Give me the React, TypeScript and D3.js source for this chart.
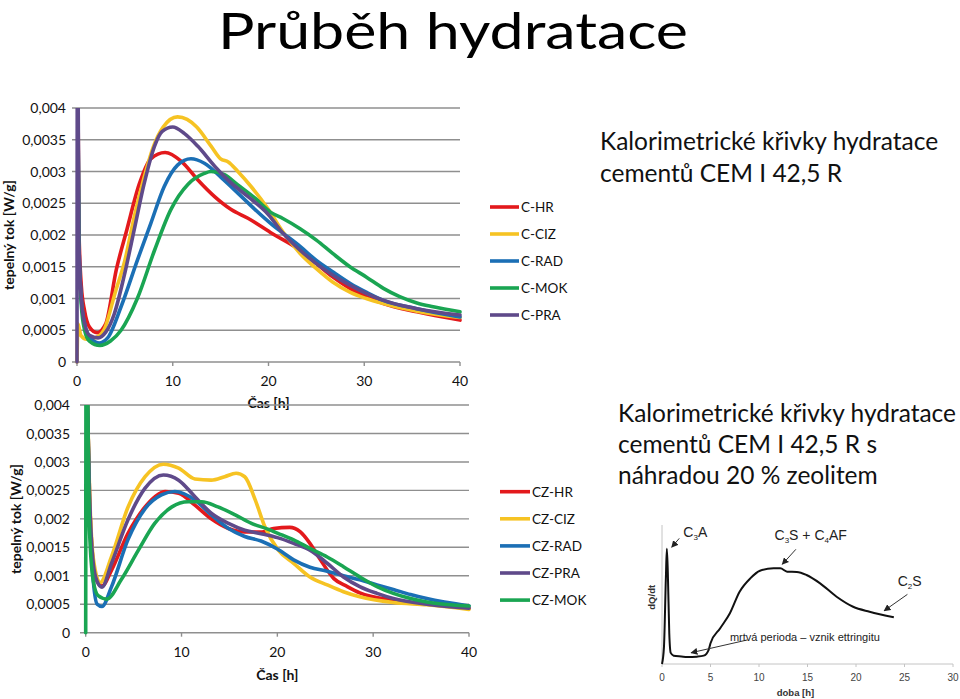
import React from 'react';
import * as d3 from 'd3';

type P = [number, number];

const FONT = "Lato, 'Open Sans', sans-serif";
const ARIAL = "'Liberation Sans', Arial, sans-serif";

// ---------- Chart 1: CEM I 42,5 R ----------
const cHR: P[] = [[0.05,0.0052],[0.2,0.0021],[0.45,0.0012],[0.8,0.0008],[1.3,0.00055],[2.1,0.00046],[3.0,0.0006],[4.1,0.00145],[5.2,0.00208],[6.5,0.0028],[7.7,0.0032],[9.2,0.0033],[10.9,0.00316],[12.6,0.00287],[14.4,0.0026],[16.1,0.0024],[17.9,0.00226],[20.2,0.00204],[23.3,0.00176],[25,0.00155],[26.7,0.00134],[28.5,0.00116],[30.2,0.00103],[32,0.00092],[35.5,0.00079],[40,0.00066]];
const cCIZ: P[] = [[0,0],[0.1,0.0006],[0.4,0.00042],[1.0,0.00036],[1.9,0.00038],[2.8,0.0005],[4,0.0011],[5,0.0016],[6,0.0023],[7,0.0029],[8,0.0034],[9,0.0037],[10.5,0.00386],[11.5,0.00382],[12.5,0.0037],[14,0.0034],[15,0.0032],[15.8,0.00315],[16.8,0.003],[18.2,0.00276],[20,0.0024],[21.5,0.00205],[23.3,0.00171],[25,0.00147],[26.7,0.00126],[28.5,0.0011],[30.2,0.001],[32,0.00092],[35.5,0.0008],[40,0.0007]];
const cRAD: P[] = [[0.05,0.005],[0.2,0.0019],[0.45,0.001],[0.8,0.0006],[1.3,0.0004],[2.3,0.0003],[3.2,0.00038],[4.6,0.00087],[6.3,0.0016],[7.7,0.00218],[9.1,0.00276],[10.5,0.0031],[11.9,0.0032],[13.3,0.00313],[15.1,0.0029],[16.8,0.00266],[18.6,0.0024],[20.4,0.00216],[21.5,0.00203],[23.3,0.00182],[25,0.0016],[26.7,0.00142],[28.5,0.00124],[30.2,0.0011],[32,0.00097],[35.5,0.00084],[40,0.00071]];
const cMOK: P[] = [[0.05,0.005],[0.2,0.0017],[0.45,0.0009],[0.8,0.0005],[1.3,0.00033],[2.4,0.00026],[3.5,0.00033],[4.6,0.0005],[6.3,0.001],[8.1,0.00176],[9.8,0.0024],[11.6,0.0028],[13.3,0.00297],[14,0.003],[15.4,0.00295],[16.8,0.00279],[18.6,0.00258],[20.2,0.00236],[21.5,0.00226],[23.3,0.0021],[25,0.00192],[26.7,0.00171],[28.5,0.0015],[30.2,0.00134],[32,0.00116],[33.7,0.00103],[35.5,0.00093],[37.2,0.00087],[40,0.00079]];
const cPRA: P[] = [[0,0],[0.05,0.006],[0.2,0.0019],[0.45,0.001],[0.8,0.0006],[1.3,0.00042],[2.2,0.00038],[3,0.00047],[3.9,0.00076],[4.9,0.00134],[6,0.0021],[7,0.0028],[8.1,0.0034],[8.9,0.00363],[10,0.0037],[11.2,0.0036],[12.6,0.0034],[14.4,0.00308],[16.1,0.00282],[17.9,0.0026],[20,0.00232],[21.5,0.00203],[23.3,0.00176],[25,0.00155],[26.7,0.00137],[28.5,0.00121],[30.2,0.00108],[32,0.00097],[35.5,0.00084],[40,0.00074]];

// ---------- Chart 2: CEM I 42,5 R + 20 % zeolite ----------
const czHR: P[] = [[0.05,0.005],[0.4,0.0024],[0.8,0.0012],[1.2,0.0009],[1.7,0.00082],[2.7,0.0011],[4.4,0.00174],[6.2,0.00221],[7.3,0.0024],[8.3,0.00248],[9.7,0.00245],[11.4,0.00224],[13.1,0.002],[14.9,0.00183],[16.6,0.00177],[18.4,0.00177],[19.6,0.00183],[21.3,0.00185],[22.4,0.00177],[23.4,0.00157],[24.5,0.00128],[25.9,0.00095],[27.3,0.00081],[28.6,0.0007],[32.1,0.00057],[35.6,0.0005],[40,0.00043]];
const czCIZ: P[] = [[0.05,0.005],[0.4,0.0025],[0.8,0.0013],[1.5,0.00088],[2.7,0.00134],[4.4,0.0022],[6.2,0.00274],[8.1,0.00296],[9.7,0.00289],[11.4,0.0027],[13.1,0.00268],[14.5,0.00274],[15.7,0.0028],[16.6,0.00274],[17.7,0.00233],[18.7,0.00186],[20.1,0.00145],[21.7,0.00122],[23.4,0.00098],[25.2,0.00084],[26.9,0.00072],[28.6,0.00063],[32.1,0.00053],[35.6,0.00049],[40,0.00041]];
const czRAD: P[] = [[0.05,0.005],[0.4,0.0022],[0.8,0.0009],[1.2,0.0005],[1.7,0.00046],[2.7,0.00081],[4.4,0.00163],[6.2,0.00218],[7.9,0.00242],[9.3,0.00248],[11.4,0.00233],[13.1,0.00207],[14.9,0.00183],[16.6,0.00169],[18.3,0.00161],[20,0.00147],[21.7,0.00128],[23.4,0.00115],[25.2,0.00108],[26.9,0.001],[28.6,0.00093],[30.4,0.00084],[32.1,0.00076],[33.9,0.00067],[35.6,0.0006],[40,0.00047]];
const czPRA: P[] = [[0.05,0.005],[0.4,0.0024],[0.8,0.0012],[1.2,0.0009],[1.7,0.0008],[2.7,0.00122],[4.4,0.00198],[6.2,0.00254],[8.1,0.00277],[9.7,0.00268],[11.4,0.00239],[13.1,0.0021],[14.9,0.00192],[16.6,0.0018],[18.3,0.00174],[20,0.00167],[21.7,0.00157],[23.4,0.00145],[25.2,0.00122],[26.9,0.00098],[28.6,0.00081],[30.4,0.00069],[32.1,0.0006],[35.6,0.0005],[40,0.00043]];
const czMOK: P[] = [[0,0],[0.05,0.006],[0.4,0.0018],[0.8,0.0009],[1.3,0.00065],[2.2,0.00059],[3.7,0.00093],[5.5,0.00145],[7.2,0.00192],[9,0.00221],[10.7,0.0023],[12.1,0.0023],[13.8,0.00221],[15.6,0.00207],[17.3,0.00192],[19,0.00182],[20,0.00175],[21.7,0.00163],[23.4,0.00148],[25.2,0.00133],[26.9,0.00116],[28.6,0.00098],[30.4,0.00081],[32.1,0.00069],[33.9,0.0006],[35.6,0.00054],[40,0.00047]];

const yTickValues = [0, 0.0005, 0.001, 0.0015, 0.002, 0.0025, 0.003, 0.0035, 0.004];
const yTickLabels = ['0', '0,0005', '0,001', '0,0015', '0,002', '0,0025', '0,003', '0,0035', '0,004'];
const xTickValues = [0, 10, 20, 30, 40];

const RED = '#e3191c';
const YELLOW = '#f6c323';
const BLUE = '#1b6fb5';
const GREEN = '#1aa552';
const PURPLE = '#5f4a8a';

const series1 = [
  { name: 'C-HR', color: RED, data: cHR },
  { name: 'C-CIZ', color: YELLOW, data: cCIZ },
  { name: 'C-RAD', color: BLUE, data: cRAD },
  { name: 'C-MOK', color: GREEN, data: cMOK },
  { name: 'C-PRA', color: PURPLE, data: cPRA },
];
const series2 = [
  { name: 'CZ-HR', color: RED, data: czHR },
  { name: 'CZ-CIZ', color: YELLOW, data: czCIZ },
  { name: 'CZ-RAD', color: BLUE, data: czRAD },
  { name: 'CZ-PRA', color: PURPLE, data: czPRA },
  { name: 'CZ-MOK', color: GREEN, data: czMOK },
];

// ---------- Schematic ----------
const schemT = [0, 0.2, 0.4, 0.5, 0.6, 0.75, 0.9, 1.2, 2, 2.6, 3.6, 4.3, 4.8, 5, 6, 7, 8, 9.1, 10.1, 11.5, 12.2, 12.9, 13.9, 14.9, 16.3, 18, 19.7, 21.4, 23.9];
const schemV = [0, 12, 62, 83, 66, 22, 8, 6, 5.4, 5, 5.3, 6, 10, 14.9, 25.7, 36.5, 52, 61.6, 67.1, 68.8, 68.8, 66.4, 66.2, 64, 58, 48.4, 41.2, 37.6, 33.6];
const schemTicks = [0, 5, 10, 15, 20, 25, 30];

type Cfg = { id: string; x0: number; x1: number; yb: number; yt: number; gridLeft: number; labelRight: number; yTitleX: number; yTitleY: number; xLabelY: number; xTitleY: number };

function Chart({ cfg, series }: { cfg: Cfg; series: { name: string; color: string; data: P[] }[] }) {
  const x = d3.scaleLinear().domain([0, 40]).range([cfg.x0, cfg.x1]);
  const y = d3.scaleLinear().domain([0, 0.004]).range([cfg.yb, cfg.yt]);
  const line = d3.line<P>().x(d => x(d[0])).y(d => y(d[1])).curve(d3.curveMonotoneX);
  return (
    <g>
      <defs>
        <clipPath id={cfg.id}>
          <rect x={cfg.x0 - 4} y={cfg.yt} width={cfg.x1 - cfg.x0 + 8} height={cfg.yb - cfg.yt + 3} />
        </clipPath>
      </defs>
      {yTickValues.map((v, i) => (
        <g key={i}>
          <line x1={cfg.gridLeft} x2={cfg.x1} y1={y(v)} y2={y(v)} stroke="#8f8f8f" strokeWidth={1.4} />
          <text x={cfg.labelRight} y={y(v)} dy="0.36em" textAnchor="end" fontFamily={FONT} fontSize={14} fill="#111">{yTickLabels[i]}</text>
        </g>
      ))}
      <line x1={cfg.x0} x2={cfg.x0} y1={cfg.yt} y2={cfg.yb} stroke="#8f8f8f" strokeWidth={1.4} />
      {xTickValues.map(t => (
        <g key={t}>
          <line x1={x(t)} x2={x(t)} y1={cfg.yb} y2={cfg.yb + 4} stroke="#8f8f8f" strokeWidth={1.4} />
          <text x={x(t)} y={cfg.xLabelY} dy="0.36em" textAnchor="middle" fontFamily={FONT} fontSize={14} fill="#111">{t}</text>
        </g>
      ))}
      <g clipPath={`url(#${cfg.id})`}>
        {series.map(s => (
          <path key={s.name} d={line(s.data) || ''} fill="none" stroke={s.color} strokeWidth={3.6} strokeLinejoin="round" strokeLinecap="round" />
        ))}
      </g>
      <text x={(cfg.x0 + cfg.x1) / 2} y={cfg.xTitleY} dy="0.36em" textAnchor="middle" fontFamily={FONT} fontWeight="bold" fontSize={14} fill="#111">Čas [h]</text>
      <text transform={`translate(${cfg.yTitleX},${cfg.yTitleY}) rotate(-90)`} dy="0.36em" textAnchor="middle" fontFamily={FONT} fontWeight="bold" fontSize={14} fill="#111">tepelný tok [W/g]</text>
    </g>
  );
}

function Legend({ items, x0, x1, y0, step }: { items: { name: string; color: string }[]; x0: number; x1: number; y0: number; step: number }) {
  return (
    <g>
      {items.map((s, i) => (
        <g key={s.name}>
          <line x1={x0} x2={x1} y1={y0 + i * step} y2={y0 + i * step} stroke={s.color} strokeWidth={3.6} />
          <text x={x1 + 2} y={y0 + i * step} dy="0.36em" fontFamily={FONT} fontSize={13.5} fill="#111">{s.name}</text>
        </g>
      ))}
    </g>
  );
}

function Schematic() {
  const x = d3.scaleLinear().domain([0, 30]).range([662, 953]);
  const y = d3.scaleLinear().domain([0, 100]).range([664, 525]);
  const pts: P[] = schemT.map((t, i) => [t, schemV[i]]);
  const line = d3.line<P>().x(d => x(d[0])).y(d => y(d[1])).curve(d3.curveMonotoneX);
  const arrow = (a: P, b: P, k: string) => (
    <line key={k} x1={x(a[0])} y1={y(a[1])} x2={x(b[0])} y2={y(b[1])} stroke="#333" strokeWidth={1} markerEnd="url(#arr)" />
  );
  return (
    <g>
      <defs>
        <marker id="arr" viewBox="0 0 10 10" refX="9" refY="5" markerWidth="7" markerHeight="7" markerUnits="userSpaceOnUse" orient="auto">
          <path d="M0,0 L10,5 L0,10 z" fill="#222" />
        </marker>
      </defs>
      <line x1={x(0)} x2={x(0)} y1={y(100)} y2={y(0)} stroke="#c4c4c4" strokeWidth={1} />
      <line x1={x(0)} x2={x(30)} y1={y(0)} y2={y(0)} stroke="#c4c4c4" strokeWidth={1} />
      {schemTicks.map(t => (
        <g key={t}>
          <line x1={x(t)} x2={x(t)} y1={y(0)} y2={y(0) + 3} stroke="#c4c4c4" strokeWidth={1} />
          <text x={x(t)} y={677} dy="0.36em" textAnchor="middle" fontFamily={ARIAL} fontSize={10} fill="#444">{t}</text>
        </g>
      ))}
      <text x={(x(0) + x(30)) / 2 - 12} y={693} dy="0.36em" textAnchor="middle" fontFamily={ARIAL} fontWeight="bold" fontSize={9.5} fill="#333">doba [h]</text>
      <text transform={`translate(652,${y(48)}) rotate(-90)`} dy="0.36em" textAnchor="middle" fontFamily={ARIAL} fontWeight="bold" fontSize={9.5} fill="#333">dQ/dt</text>
      <path d={line(pts) || ''} fill="none" stroke="#111" strokeWidth={2} strokeLinejoin="round" />
      {arrow([1.78, 90.4], [1.0, 84], 'a1')}
      {arrow([13.8, 82.5], [12.4, 71.7], 'a2')}
      {arrow([25.3, 50.1], [22.9, 38.3], 'a3')}
      {arrow([8.8, 17.3], [3.0, 8.1], 'a4')}
      <text x={x(2.2)} y={y(95)} dy="0.36em" fontFamily={ARIAL} fontSize={14} fill="#222">C<tspan fontSize={8} dy="3">3</tspan><tspan dy="-3">A</tspan></text>
      <text x={x(11.6)} y={y(93)} dy="0.36em" fontFamily={ARIAL} fontSize={14} fill="#222">C<tspan fontSize={8} dy="3">3</tspan><tspan dy="-3">S + C</tspan><tspan fontSize={8} dy="3">4</tspan><tspan dy="-3">AF</tspan></text>
      <text x={x(24.3)} y={y(60)} dy="0.36em" fontFamily={ARIAL} fontSize={14} fill="#222">C<tspan fontSize={8} dy="3">2</tspan><tspan dy="-3">S</tspan></text>
      <text x={x(7.0)} y={y(19.6)} dy="0.36em" fontFamily={ARIAL} fontSize={11} fill="#222" textLength={150} lengthAdjust="spacingAndGlyphs">mrtvá perioda – vznik ettringitu</text>
    </g>
  );
}

const cfg1: Cfg = { id: 'clip1', x0: 77, x1: 460, yb: 362, yt: 108, gridLeft: 72, labelRight: 66, yTitleX: 9, yTitleY: 235, xLabelY: 381, xTitleY: 403 };
const cfg2: Cfg = { id: 'clip2', x0: 85.7, x1: 469, yb: 632.7, yt: 405, gridLeft: 80, labelRight: 70, yTitleX: 16, yTitleY: 519, xLabelY: 652, xTitleY: 675 };

export default function App() {
  return (
    <svg width={960} height={699} style={{ position: 'absolute', left: 0, top: 0, background: '#fff' }}>
      <rect width={960} height={699} fill="#fff" />
      <text x={453} y={49} textAnchor="middle" fontFamily={FONT} fontSize={50} fill="#000" textLength={470} lengthAdjust="spacingAndGlyphs">Průběh hydratace</text>
      <Chart cfg={cfg1} series={series1} />
      <Legend items={series1} x0={490} x1={519} y0={207} step={27} />
      <Chart cfg={cfg2} series={series2} />
      <Legend items={series2} x0={500} x1={530} y0={491.7} step={27.1} />
      <text x={600} y={141} dy="0.36em" fontFamily={FONT} fontSize={24.5} fill="#111">Kalorimetrické křivky hydratace</text>
      <text x={600} y={173} dy="0.36em" fontFamily={FONT} fontSize={24.5} fill="#111">cementů CEM I 42,5 R</text>
      <text x={618} y={413} dy="0.36em" fontFamily={FONT} fontSize={24.5} fill="#111" textLength={338} lengthAdjust="spacingAndGlyphs">Kalorimetrické křivky hydratace</text>
      <text x={618} y={444} dy="0.36em" fontFamily={FONT} fontSize={24.5} fill="#111">cementů CEM I 42,5 R s</text>
      <text x={618} y={475} dy="0.36em" fontFamily={FONT} fontSize={24.5} fill="#111">náhradou 20 % zeolitem</text>
      <Schematic />
    </svg>
  );
}
